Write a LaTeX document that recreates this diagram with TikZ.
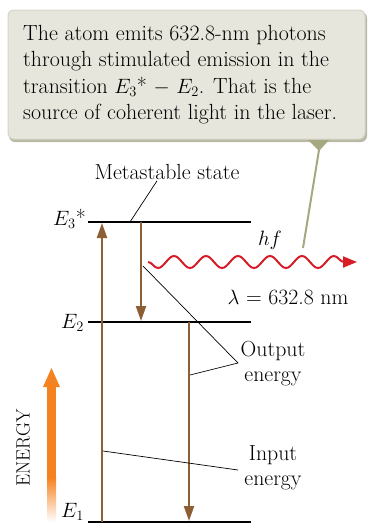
\documentclass[tikz,border=0pt]{standalone}
\usepackage{fontspec}
\usetikzlibrary{positioning,arrows.meta,decorations.pathmorphing}
\definecolor{cBrown}{RGB}{140,95,52}
\definecolor{cWave}{RGB}{215,30,40}
\definecolor{cEnergy}{RGB}{245,130,32}
\definecolor{cBox}{RGB}{230,230,220}
\definecolor{cRim}{RGB}{185,185,165}
\definecolor{cPoint}{RGB}{168,168,128}
\newcommand{\Elev}[1]{$E_{#1}$}

\begin{document}
\begin{tikzpicture}[x=1pt,y=-1pt,
   lbl/.style={font=\fontsize{21.8}{25}\selectfont,inner sep=0pt},
   lvl/.style={line width=1.3pt},
   trans/.style={cBrown,line width=2.2pt,-{Triangle[length=15pt,width=10pt]}},
   lead/.style={line width=0.7pt}]
  \useasboundingbox (0,0) rectangle (368,525);
  % callout
  \fill[cRim,rounded corners=6pt] (9,12) rectangle (367,142);
  \filldraw[fill=cBox,draw=cRim!60,line width=1pt,rounded corners=6pt] (8,10) rectangle (365,139);
  \node[anchor=north west,inner sep=0pt,align=left,
        font=\fontsize{21.9}{26.5}\selectfont] (note) at (23,25)
    {The atom emits 632.8-nm photons\\through stimulated emission in the\\
     transition \Elev{3}* $-$ \Elev{2}. That is the\\source of coherent light in the laser.};
  \fill[cPoint] (308,140) -- (329,140) -- (319,151) -- cycle;
  \coordinate (tail) at (319,150);
  \coordinate (tip) at (303,248);
  \draw[cPoint,line width=2pt] (tail) -- (tip);
  % energy levels
  \foreach \n/\y in {3/222,2/322,1/522} {
    \coordinate (E\n w) at (88,\y);
    \coordinate (E\n e) at (251,\y);
    \draw[lvl] (E\n w) -- (E\n e);
  }
  \node[lbl,anchor=east] (E3lab) at (86,219) {\Elev{3}*};
  \node[lbl,anchor=east] (E2lab) at (84,323) {\Elev{2}};
  \node[lbl,anchor=east] (E1lab) at (84,512) {\Elev{1}};
  % transitions
  \coordinate (pump0) at (102,522); \coordinate (pump1) at (102,223);
  \coordinate (stim0) at (141,222); \coordinate (stim1) at (141,321);
  \coordinate (out0) at (189,322);  \coordinate (out1) at (189,521);
  \draw[trans] (pump0) -- (pump1);
  \draw[trans] (stim0) -- (stim1);
  \draw[trans] (out0) -- (out1);
  % photon
  \node[lbl] (hf) at (270,240) {$hf$};
  \coordinate (w0) at (148,262); \coordinate (w1) at (357,262);
  \draw[cWave,line width=2pt,-{Triangle[length=14pt,width=11pt]},decorate,
        decoration={snake,amplitude=6pt,segment length=32pt,post length=11pt,mirror}] (w0) -- (w1);
  \node[lbl] (lam) at (288,297) {$\lambda$ = 632.8 nm};
  % labels and leaders
  \node[lbl] (meta) at (167,172) {Metastable state};
  \coordinate (metaP) at (130,222);
  \draw[lead] ([xshift=-10pt,yshift=-1pt]meta.south) -- (metaP);
  \node[lbl,align=center] (outlab) at (273,364) {Output\\energy};
  \coordinate (oj) at (238,363);
  \coordinate (stimP) at (143,266); \coordinate (outP) at (190,375);
  \draw[lead] (stimP) -- (oj) -- (outP);
  \node[lbl,align=center] (inlab) at (273,468) {Input\\energy};
  \coordinate (ij) at (238,470); \coordinate (pumpP) at (103,451);
  \draw[lead] (pumpP) -- (ij);
  % energy axis
  \node[lbl,rotate=90,font=\fontsize{19.2}{22}\selectfont] (energy) at (23,448) {ENERGY};
  \fill[cEnergy] (47,386) rectangle (56,478);
  \shade[top color=cEnergy,bottom color=white] (47,477.5) rectangle (56,522);
  \fill[cEnergy] (43,387) -- (51.5,368) -- (60,387) -- cycle;
\end{tikzpicture}
\end{document}
